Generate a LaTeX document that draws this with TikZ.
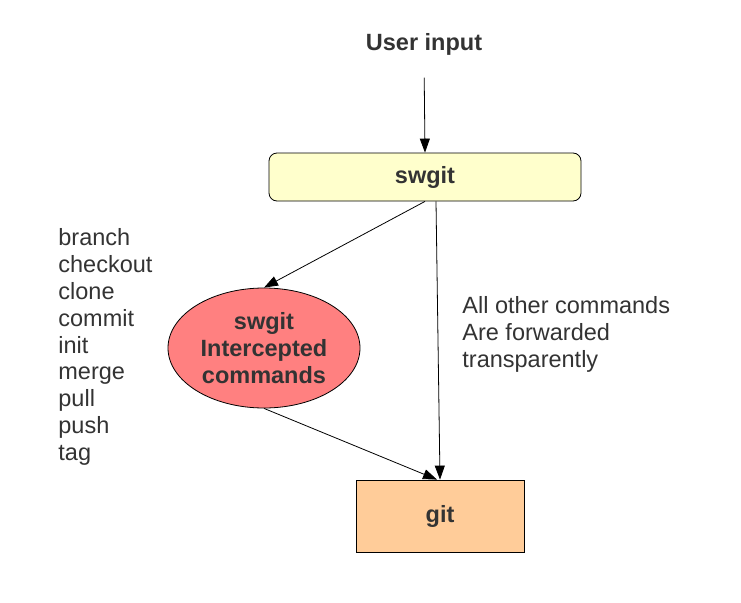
\documentclass[tikz,border=0pt]{standalone}
\usepackage{fontspec}
\setmainfont{Liberation Sans}
\usetikzlibrary{arrows.meta,shapes.geometric}

\definecolor{swgitfill}{HTML}{FFFFCC}
\definecolor{interfill}{HTML}{FF8080}
\definecolor{gitfill}{HTML}{FFCC99}
\definecolor{inktext}{HTML}{333333}

\begin{document}
\begin{tikzpicture}[x=1pt,y=-1pt,line width=0.8pt,
  boldlabel/.style={font=\fontsize{23.5}{27}\selectfont\bfseries, text=inktext, align=center},
  plainlist/.style={font=\fontsize{23.5}{26.9}\selectfont, text=inktext, align=left, anchor=north west, inner sep=0pt},
  flow/.style={-{Triangle[length=14pt,width=10pt]}, line width=0.8pt}]
\useasboundingbox (0,0) rectangle (741,602);

% boxes
\node[boldlabel] (userinput) at (424,44) {User input};
\node[boldlabel, draw, fill=swgitfill, rounded corners=8pt, minimum width=312pt, minimum height=48pt] (swgit) at (425,177) {swgit};
\node[boldlabel, draw, fill=interfill, ellipse, inner sep=0pt, minimum width=192pt, minimum height=120pt] (intercept) at (264,348) {swgit\\Intercepted\\commands};
\node[boldlabel, draw, fill=gitfill, minimum width=168pt, minimum height=72pt] (git) at (440,516) {git};

% side texts
\node[plainlist] (cmdlist) at (58,228) {branch\\checkout\\clone\\commit\\init\\merge\\pull\\push\\tag};
\node[plainlist] (otherlist) at (462,296) {All other commands\\Are forwarded\\transparently};

% arrows
\draw[flow, shorten <=19pt] (userinput.south) -- (swgit.north);
\draw[flow] (swgit.south) -- (intercept.north);
\draw[flow] ([xshift=11pt]swgit.south) -- (git.north);
\draw[flow] (intercept.south) -- ([xshift=-3pt]git.north);
\end{tikzpicture}
\end{document}
